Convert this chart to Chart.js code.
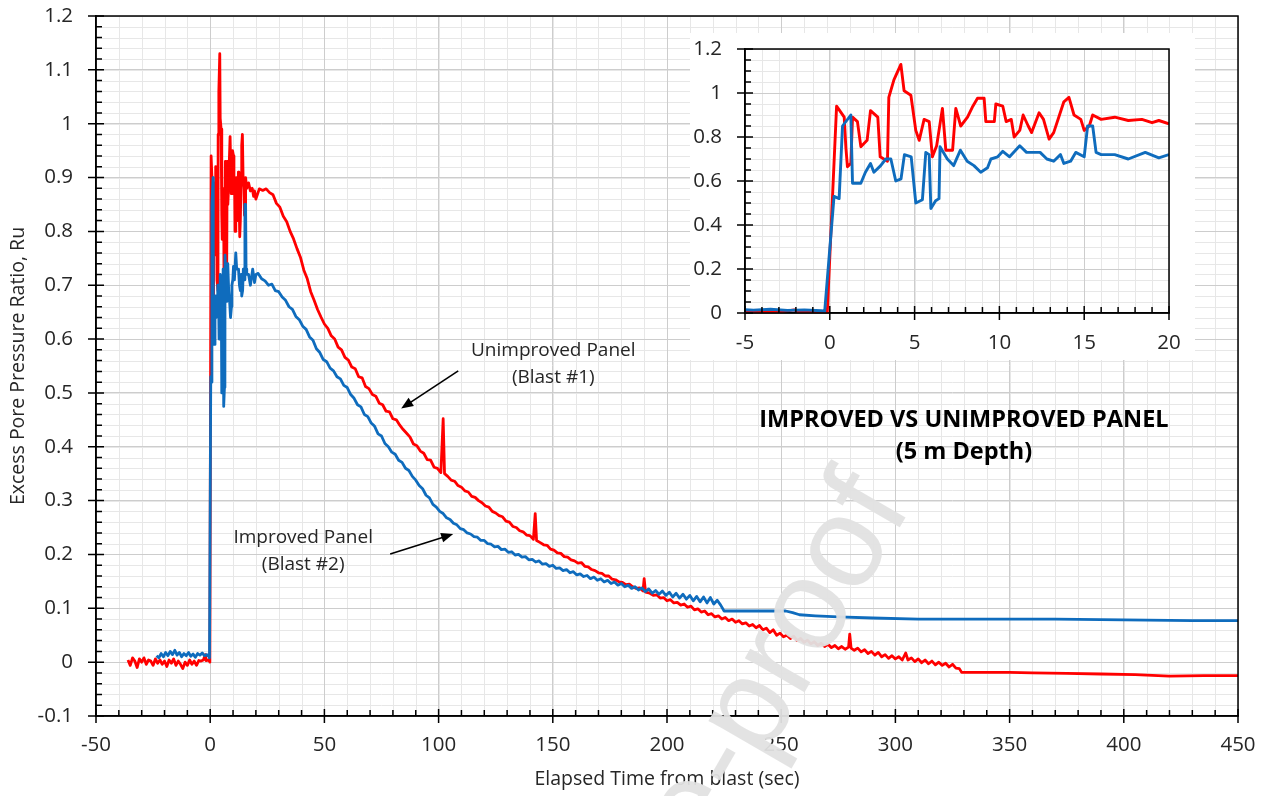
<!DOCTYPE html>
<html>
<head>
<meta charset="utf-8">
<script src="https://cdn.jsdelivr.net/npm/chart.js@4.4.1/dist/chart.umd.min.js"></script>
<style>
  body { margin: 0; background: #fff; }
  #wrap { position: relative; width: 1266px; height: 796px; }
  #main { position: absolute; left: 0; top: 0; }
  #inset { position: absolute; left: 690px; top: 33px; background: #fff; }
</style>
</head>
<body>
<div id="wrap">
  <canvas id="main" width="1266" height="796"></canvas>
  <canvas id="inset" width="505" height="327"></canvas>
</div>
<script>
// readings from the figure, [time (sec), Ru]
const redPre = [[-36,.004],[-35,-.006],[-34,.008],[-33,.002],[-32,-.010],[-31,.006],[-30,.000],[-29,.008],[-28,-.004],[-27,.004],[-26,.002],[-25,-.006],[-24,.006],[-23,-.002],[-22,.004],[-21,-.004],[-20,.002],[-19,-.008],[-18,.004],[-17,-.002],[-16,.006],[-15,-.006],[-14,.002],[-13,-.004],[-12,-.012],[-11,.000],[-10,-.006],[-9,.004],[-8,-.004],[-7,.002],[-6,-.006],[-5,.003],[-4,.002],[-3,.004],[-2.1,.014],[-1.8,.003],[-1,.004],[-0.3,.002]];
const redEarly = [[-0.15,0],[0.4,0.94],[0.85,0.89],[0.95,0.75],[1.04,0.665],[1.24,0.68],[1.34,0.89],[1.63,0.87],[1.83,0.756],[2.2,0.785],[2.4,0.92],[2.83,0.89],[2.97,0.71],[3.4,0.69],[3.48,0.98],[3.78,1.06],[4.19,1.13],[4.38,1.01],[4.78,0.99],[5.07,0.83],[5.27,0.785],[5.56,0.88],[5.86,0.87],[6.05,0.71],[6.3,0.76],[6.64,0.93],[6.84,0.74],[7.24,0.74],[7.43,0.93],[7.72,0.85],[8.12,0.89],[8.4,0.935],[8.71,0.976],[9.1,0.976],[9.2,0.87],[9.7,0.87],[9.79,0.95],[10.2,0.94],[10.4,0.87],[10.7,0.88],[10.87,0.80],[11.2,0.83],[11.4,0.90],[11.7,0.85],[11.9,0.82],[12.34,0.91],[12.6,0.88],[12.93,0.79],[13.2,0.82],[13.5,0.89],[13.8,0.96],[14.1,0.98],[14.4,0.90],[14.8,0.88],[15.0,0.83],[15.3,0.85],[15.5,0.90],[16.0,0.88],[16.8,0.89],[17.6,0.875],[18.4,0.88],[19.0,0.865],[19.4,0.875],[20,0.86]];
const redTail = [[21.5,.879],[23,.876],[24.5,.879],[26,.872],[27.5,.868],[29,.852],[30.5,.845],[32,.828],[33.5,.818],[35,.800],[36.5,.786],[38,.768],[39.5,.752],[41,.728],[42.5,.712],[44,.688],[45.5,.672],[47,.655],[48.5,.641],[50,.628],[51.5,.620],[53,.606],[54.5,.600],[56,.585],[57.5,.580],[59,.566],[60.5,.561],[62,.548],[63.5,.545],[65,.530],[66.5,.528],[68,.512],[69.5,.508],[71,.497],[72.5,.494],[74,.481],[75.5,.478],[77,.466],[78.5,.465],[80,.452],[81.5,.450],[83,.440],[84.5,.432],[86,.425],[87.5,.418],[89,.405],[90.5,.402],[92,.392],[93.5,.388],[95,.376],[96.5,.375],[98,.362],[99.5,.360],[101,.352],[102,.452],[102.6,.350],[104,.345],[105.5,.338],[107,.336],[108.5,.328],[110,.325],[111.5,.318],[113,.316],[114.5,.308],[116,.306],[117.5,.300],[119,.296],[120.5,.290],[122,.288],[123.5,.280],[125,.277],[126.5,.272],[128,.270],[129.5,.262],[131,.260],[132.5,.252],[134,.250],[135.5,.244],[137,.242],[138.5,.236],[140,.235],[141.5,.228],[142.3,.276],[142.9,.226],[144.5,.222],[146,.218],[147.5,.217],[149,.210],[150.5,.208],[152,.203],[153.5,.202],[155,.196],[156.5,.195],[158,.190],[159.5,.188],[161,.184],[162.5,.185],[164,.178],[165.5,.177],[167,.172],[168.5,.170],[170,.166],[171.5,.165],[173,.160],[174.5,.160],[176,.154],[177.5,.153],[179,.149],[180.5,.148],[182,.144],[183.5,.145],[185,.140],[186.5,.137],[188,.138],[189.5,.132],[190,.155],[190.6,.130],[192.5,.128],[194,.124],[195.5,.125],[197,.119],[198.5,.120],[200,.114],[201.5,.116],[203,.110],[204.5,.111],[206,.106],[207.5,.108],[209,.102],[210.5,.104],[212,.097],[213.5,.099],[215,.093],[216.5,.095],[218,.088],[219.5,.090],[221,.084],[222.5,.086],[224,.080],[225.5,.083],[227,.077],[228.5,.080],[230,.074],[231.5,.077],[233,.071],[234.5,.073],[236,.067],[237.5,.070],[239,.064],[240.5,.068],[242,.060],[243.5,.063],[245,.055],[246.5,.060],[248,.050],[249.5,.054],[251,.047],[252.5,.050],[254,.044],[255.5,.048],[257,.040],[258.5,.044],[260,.037],[261.5,.041],[263,.034],[264.5,.038],[266,.031],[267.5,.035],[269,.029],[270.5,.033],[272,.027],[273.5,.031],[275,.025],[276.5,.029],[278,.024],[279.5,.028],[280,.052],[280.6,.026],[282,.022],[283.5,.026],[285,.019],[286.5,.023],[288,.016],[289.5,.020],[291,.013],[292.5,.018],[294,.010],[295.5,.014],[297,.007],[298.5,.012],[300,.006],[301.5,.010],[303,.004],[304.5,.017],[305.5,.004],[307,.008],[308.5,.001],[310,.006],[311.5,-.001],[313,.004],[314.5,-.003],[316,.002],[317.5,-.005],[319,.000],[320.5,-.006],[322,-.002],[323.5,-.009],[325,-.004],[326.5,-.011],[328,-.012],[329,-.019],[340,-.019],[350,-.019],[360,-.020],[375,-.021],[390,-.022],[405,-.023],[420,-.026],[435,-.025],[450,-.025]];

const bluePre = [[-23.5,.012],[-22.5,.008],[-21.5,.016],[-20.5,.010],[-19.5,.018],[-18.5,.012],[-17.5,.020],[-16.5,.014],[-15.5,.022],[-14.5,.013],[-13.5,.018],[-12.5,.010],[-11.5,.016],[-10.5,.012],[-9.5,.018],[-8.5,.011],[-7.5,.015],[-6.5,.009],[-5.5,.016],[-4.5,.013],[-3.5,.017],[-2.5,.012],[-1.5,.014],[-0.5,.010],[-0.3,.008]];
const blueEarly = [[0.25,0.53],[0.55,0.52],[0.75,0.85],[1.24,0.90],[1.34,0.59],[1.83,0.59],[2.1,0.64],[2.4,0.68],[2.6,0.64],[3.0,0.67],[3.3,0.70],[3.6,0.70],[3.89,0.60],[4.2,0.61],[4.4,0.72],[4.8,0.71],[5.07,0.50],[5.46,0.515],[5.66,0.73],[5.86,0.72],[5.96,0.475],[6.24,0.51],[6.44,0.52],[6.5,0.756],[6.93,0.70],[7.3,0.67],[7.7,0.74],[8.1,0.69],[8.5,0.67],[8.9,0.64],[9.3,0.66],[9.5,0.70],[9.9,0.71],[10.2,0.735],[10.6,0.71],[11.2,0.76],[11.6,0.73],[12.4,0.73],[12.8,0.70],[13.2,0.69],[13.6,0.72],[13.8,0.68],[14.2,0.69],[14.5,0.73],[15.0,0.71],[15.2,0.85],[15.5,0.85],[15.7,0.73],[16.0,0.72],[16.8,0.72],[17.6,0.70],[18.6,0.73],[19.4,0.705],[20,0.72]];
const blueTail = [[21,.722],[22.5,.712],[24,.708],[25.5,.700],[27,.702],[28.5,.690],[30,.688],[31.5,.678],[33,.672],[34.5,.660],[36,.655],[37.5,.642],[39,.636],[40.5,.624],[42,.618],[43.5,.604],[45,.598],[46.5,.582],[48,.575],[49.5,.562],[51,.558],[52.5,.546],[54,.541],[55.5,.530],[57,.526],[58.5,.514],[60,.510],[61.5,.497],[63,.490],[64.5,.478],[66,.474],[67.5,.460],[69,.456],[70.5,.444],[72,.438],[73.5,.424],[75,.420],[76.5,.406],[78,.400],[79.5,.390],[81,.386],[82.5,.375],[84,.371],[85.5,.360],[87,.356],[88.5,.345],[90,.338],[91.5,.328],[93,.322],[94.5,.310],[96,.305],[97.5,.293],[99,.288],[100.5,.280],[102,.276],[103.5,.268],[105,.265],[106.5,.258],[108,.255],[109.5,.248],[111,.246],[112.5,.240],[114,.238],[115.5,.233],[117,.232],[118.5,.226],[120,.226],[121.5,.220],[123,.219],[124.5,.214],[126,.215],[127.5,.209],[129,.210],[130.5,.204],[132,.205],[133.5,.199],[135,.200],[136.5,.195],[138,.196],[139.5,.190],[141,.191],[142.5,.186],[144,.188],[145.5,.182],[147,.183],[148.5,.178],[150,.180],[151.5,.174],[153,.175],[154.5,.170],[156,.172],[157.5,.166],[159,.168],[160.5,.162],[162,.164],[163.5,.159],[165,.161],[166.5,.155],[168,.158],[169.5,.152],[171,.155],[172.5,.149],[174,.152],[175.5,.146],[177,.149],[178.5,.143],[180,.146],[181.5,.140],[183,.143],[184.5,.137],[186,.140],[187.5,.134],[189,.138],[190.5,.131],[192,.136],[193.5,.128],[195,.133],[196.5,.126],[198,.132],[199.5,.124],[201,.130],[202.5,.121],[204,.128],[205.5,.119],[207,.126],[208.5,.117],[210,.124],[211.5,.114],[213,.122],[214.5,.112],[216,.121],[217.5,.110],[219,.120],[220.5,.108],[222,.115],[223.5,.106],[225,.095],[235,.095],[245,.095],[252,.095],[255,.092],[258,.088],[265,.086],[275,.084],[290,.082],[310,.080],[330,.080],[350,.080],[370,.080],[390,.079],[410,.078],[430,.077],[450,.077]];

const redSeries = redPre.concat(redEarly, redTail);
const blueSeries = bluePre.concat(blueEarly, blueTail);

const xTitle = 'Elapsed Time from blast (sec)';
const yTitle = 'Excess Pore Pressure Ratio, Ru';
const chartTitle = ['IMPROVED VS UNIMPROVED PANEL', '(5 m Depth)'];
const redLabel = ['Unimproved Panel', '(Blast #1)'];
const blueLabel = ['Improved Panel', '(Blast #2)'];

const RED = '#ff0000';
const BLUE = '#0f6cbd';
const FONT = '"Open Sans", "Noto Sans", sans-serif';
const TEXT = '#262626';

// excel style frame: minor grid, crossing major ticks, inner minor ticks, box border
const excelFrame = {
  id: 'excelFrame',
  beforeDraw(chart, args, opts) {
    const { ctx, chartArea: a, scales: { x, y } } = chart;
    ctx.save();
    ctx.strokeStyle = opts.minorColor;
    ctx.lineWidth = 1;
    ctx.beginPath();
    const nx = Math.round((x.max - x.min) / opts.xMinor);
    for (let i = 1; i < nx; i++) {
      const px = Math.round(x.getPixelForValue(x.min + i * opts.xMinor)) + 0.5;
      ctx.moveTo(px, a.top);
      ctx.lineTo(px, a.bottom);
    }
    const ny = Math.round((y.max - y.min) / opts.yMinor);
    for (let i = 1; i < ny; i++) {
      const py = Math.round(y.getPixelForValue(y.min + i * opts.yMinor)) + 0.5;
      ctx.moveTo(a.left, py);
      ctx.lineTo(a.right, py);
    }
    ctx.stroke();
    ctx.restore();
  },
  afterDatasetsDraw(chart, args, opts) {
    const { ctx, chartArea: a, scales: { x, y } } = chart;
    ctx.save();
    ctx.strokeStyle = '#000';
    ctx.lineWidth = 1.5;
    ctx.strokeRect(a.left, a.top, a.right - a.left, a.bottom - a.top);
    ctx.beginPath();
    const nx = Math.round((x.max - x.min) / opts.xMinor);
    const xEvery = Math.round(opts.xMajor / opts.xMinor);
    for (let i = 0; i <= nx; i++) {
      const px = x.getPixelForValue(x.min + i * opts.xMinor);
      if (i % xEvery === 0) {
        ctx.moveTo(px, a.bottom - 7);
        ctx.lineTo(px, a.bottom + 7);
      } else {
        ctx.moveTo(px, a.bottom - 6);
        ctx.lineTo(px, a.bottom);
      }
    }
    const ny = Math.round((y.max - y.min) / opts.yMinor);
    const yEvery = Math.round(opts.yMajor / opts.yMinor);
    for (let i = 0; i <= ny; i++) {
      const py = y.getPixelForValue(y.min + i * opts.yMinor);
      if (i % yEvery === 0) {
        ctx.moveTo(a.left - 8, py);
        ctx.lineTo(a.left + 8, py);
      } else {
        ctx.moveTo(a.left, py);
        ctx.lineTo(a.left + 6, py);
      }
    }
    ctx.stroke();
    ctx.restore();
  },
};

function arrow(ctx, x0, y0, x1, y1) {
  const ang = Math.atan2(y1 - y0, x1 - x0);
  ctx.beginPath();
  ctx.moveTo(x0, y0);
  ctx.lineTo(x1 - 8 * Math.cos(ang), y1 - 8 * Math.sin(ang));
  ctx.stroke();
  ctx.beginPath();
  ctx.moveTo(x1, y1);
  ctx.lineTo(x1 - 13 * Math.cos(ang - 0.38), y1 - 13 * Math.sin(ang - 0.38));
  ctx.lineTo(x1 - 13 * Math.cos(ang + 0.38), y1 - 13 * Math.sin(ang + 0.38));
  ctx.closePath();
  ctx.fill();
}

// labels, arrows and the pre-proof stamp, placed in data units
const mainNotes = {
  id: 'mainNotes',
  afterDraw(chart) {
    const { ctx, scales: { x, y } } = chart;
    const X = (v) => x.getPixelForValue(v);
    const Y = (v) => y.getPixelForValue(v);
    ctx.save();
    ctx.fillStyle = TEXT;
    ctx.textAlign = 'center';
    ctx.textBaseline = 'middle';
    ctx.font = '19px ' + FONT;
    ctx.fillText(redLabel[0], X(150.2), Y(0.579));
    ctx.fillText(redLabel[1], X(150.2), Y(0.529));
    ctx.fillText(blueLabel[0], X(40.7), Y(0.231));
    ctx.fillText(blueLabel[1], X(40.7), Y(0.181));
    ctx.fillStyle = '#000';
    ctx.font = 'bold 23.5px ' + FONT;
    ctx.fillText(chartTitle[0], X(330), Y(0.450));
    ctx.fillText(chartTitle[1], X(330), Y(0.389));
    ctx.strokeStyle = '#000';
    ctx.lineWidth = 1.6;
    arrow(ctx, X(108.6), Y(0.541), X(83.6), Y(0.471));
    arrow(ctx, X(78.8), Y(0.201), X(106.4), Y(0.238));

    ctx.translate(912, 506);
    ctx.rotate(-60 * Math.PI / 180);
    ctx.textAlign = 'right';
    ctx.textBaseline = 'alphabetic';
    ctx.font = '130px "Liberation Sans", sans-serif';
    ctx.fillStyle = 'rgba(226,226,226,0.95)';
    ctx.fillText('Journal Pre-proof', 0, 0);
    ctx.restore();
  },
};

const tickFont = { family: FONT, size: 20.5 };
const tickText = (v) => String(+Number(v).toFixed(2));

// keep the plot area where the layout padding says, not where label overhang pushes it
function fixY(width) {
  return (scale) => { scale.width = width; scale.paddingTop = 0; scale.paddingBottom = 0; };
}
function fixX(height) {
  return (scale) => { scale.height = height; scale.paddingLeft = 0; scale.paddingRight = 0; };
}

new Chart(document.getElementById('main'), {
  type: 'scatter',
  data: {
    datasets: [
      { label: blueLabel.join(' '), data: blueSeries, borderColor: BLUE, borderWidth: 2.8, showLine: true, pointRadius: 0, order: 0 },
      { label: redLabel.join(' '), data: redSeries, borderColor: RED, borderWidth: 2.8, showLine: true, pointRadius: 0, order: 1 },
    ],
  },
  options: {
    responsive: false,
    animation: false,
    events: [],
    elements: { line: { tension: 0, borderJoinStyle: 'round' } },
    layout: { padding: { top: 16, right: 28, left: 0, bottom: 0 } },
    plugins: {
      legend: { display: false },
      tooltip: { enabled: false },
      excelFrame: { minorColor: '#e7e7e7', xMinor: 10, xMajor: 50, yMinor: 0.02, yMajor: 0.1 },
    },
    scales: {
      x: {
        type: 'linear',
        min: -50,
        max: 450,
        ticks: { stepSize: 50, padding: 17, color: TEXT, font: tickFont, maxRotation: 0 },
        grid: { color: '#cdcdcd', drawTicks: false },
        border: { color: '#000', width: 1.5 },
        title: { display: true, text: xTitle, color: TEXT, font: { family: FONT, size: 19.5 }, padding: { top: 0, bottom: 5 } },
        afterFit: fixX(80),
      },
      y: {
        min: -0.1,
        max: 1.2,
        ticks: { stepSize: 0.1, padding: 23, color: TEXT, font: tickFont, callback: tickText },
        grid: { color: '#cdcdcd', drawTicks: false },
        border: { color: '#000', width: 1.5 },
        title: { display: true, text: yTitle, color: TEXT, font: { family: FONT, size: 19.5 }, padding: { top: 7, bottom: 0 } },
        afterFit: fixY(96),
      },
    },
  },
  plugins: [excelFrame, mainNotes],
});

new Chart(document.getElementById('inset'), {
  type: 'scatter',
  data: {
    datasets: [
      { data: blueSeries, borderColor: BLUE, borderWidth: 2.9, showLine: true, pointRadius: 0, order: 0 },
      { data: redSeries, borderColor: RED, borderWidth: 2.9, showLine: true, pointRadius: 0, order: 1 },
    ],
  },
  options: {
    responsive: false,
    animation: false,
    events: [],
    elements: { line: { tension: 0, borderJoinStyle: 'round' } },
    layout: { padding: { top: 16, right: 26, left: 0, bottom: 0 } },
    plugins: {
      legend: { display: false },
      tooltip: { enabled: false },
      excelFrame: { minorColor: '#e7e7e7', xMinor: 1, xMajor: 5, yMinor: 0.05, yMajor: 0.2 },
    },
    scales: {
      x: {
        type: 'linear',
        min: -5,
        max: 20,
        ticks: { stepSize: 5, padding: 18, color: TEXT, font: tickFont, maxRotation: 0 },
        grid: { color: '#cdcdcd', drawTicks: false },
        border: { color: '#000', width: 1.5 },
        afterFit: fixX(47),
      },
      y: {
        min: 0,
        max: 1.2,
        ticks: { stepSize: 0.2, padding: 23, color: TEXT, font: tickFont, callback: tickText },
        grid: { color: '#cdcdcd', drawTicks: false },
        border: { color: '#000', width: 1.5 },
        afterFit: fixY(55),
      },
    },
  },
  plugins: [excelFrame],
});
</script>
</body>
</html>
